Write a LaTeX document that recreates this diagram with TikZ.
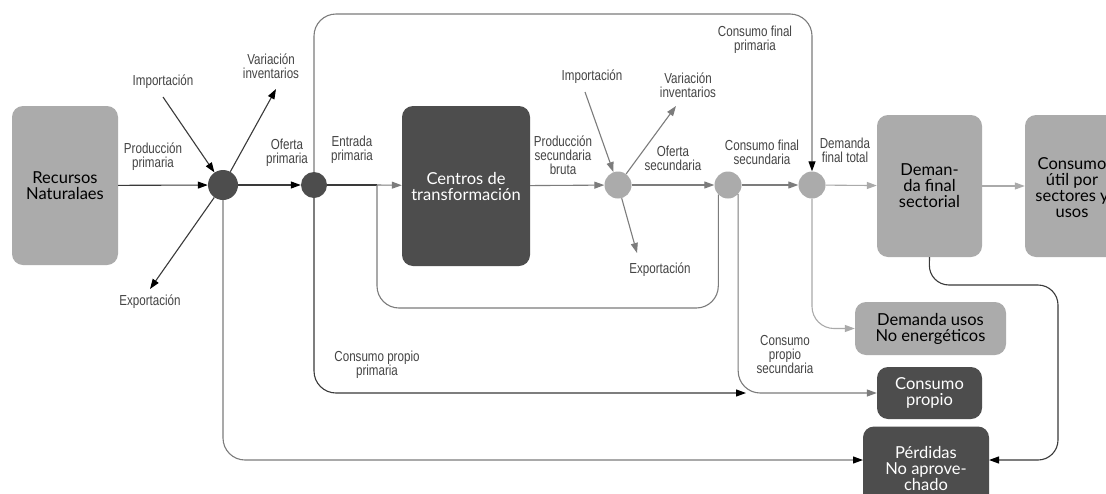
\documentclass[tikz,border=0pt]{standalone}
\usepackage{fontspec}
\setmainfont{Liberation Sans}
\newfontfamily\lblfont[FakeStretch=0.8]{Liberation Sans}
\newfontfamily\boxfont{Lato}
\usetikzlibrary{arrows.meta,calc}
\definecolor{dkfill}{HTML}{4D4D4D}
\definecolor{ltfill}{HTML}{ABABAB}
\definecolor{lblc}{HTML}{444444}
\definecolor{dkline}{HTML}{3A3A3A}
\definecolor{mdline}{HTML}{7C7C7C}
\definecolor{ltline}{HTML}{AAAAAA}
\begin{document}
\begin{tikzpicture}[x=1pt,y=-1pt,
  lbl/.style={font=\lblfont\fontsize{14.5}{14}\selectfont, text=lblc, align=center, inner sep=0pt},
  boxtxt/.style={font=\boxfont\fontsize{16.5}{16}\selectfont, align=center, inner sep=0pt, rounded corners=11pt},
  dkbox/.style={boxtxt, fill=dkfill, text=white},
  ltbox/.style={boxtxt, fill=ltfill, text=black},
  dkdot/.style={circle, fill=dkfill, inner sep=0pt},
  ltdot/.style={circle, fill=ltfill, inner sep=0pt},
  tipk/.style={-{Triangle[length=10pt,width=7pt,color=black]}},
  tipm/.style={-{Triangle[length=10pt,width=7pt,color=mdline]}},
  tipl/.style={-{Triangle[length=10pt,width=7pt,color=ltline]}},
  dkl/.style={draw=dkline, line width=1.1pt},
  mdl/.style={draw=mdline, line width=1.1pt},
  ltl/.style={draw=ltline, line width=1.1pt},
  rc/.style={rounded corners=22pt}
]
\useasboundingbox (0,0) rectangle (1106,493);
\fill[white] (0,0) rectangle (1106,493);

% boxes
\node[ltbox, minimum width=106pt, minimum height=159pt] (rec) at (65,185.5) {Recursos\\Naturalaes};
\node[dkbox, minimum width=128pt, minimum height=160pt] (cen) at (466,186) {Centros de\\transformación};
\node[ltbox, minimum width=105pt, minimum height=142pt] (dfs) at (929.5,186) {Deman-\\da final\\sectorial};
\node[ltbox, minimum width=110pt, minimum height=142pt] (cu) at (1080,186) {};
\node[boxtxt, text=black] (cut) at (1072,188) {Consumo\\útil por\\sectores y\\usos};
\node[ltbox, minimum width=151pt, minimum height=53pt] (dun) at (930.5,328.5) {Demanda usos\\No energéticos};
\node[dkbox, minimum width=105pt, minimum height=52pt] (cp) at (929.5,393) {Consumo\\propio};
\node[dkbox, minimum width=126pt, minimum height=83pt] (per) at (926,468) {Pérdidas\\No aprove-\\chado};

% circles
\node[dkdot, minimum size=30pt] (n1) at (223,185) {};
\node[dkdot, minimum size=26pt] (n2) at (314,185) {};
\node[ltdot, minimum size=27pt] (sA) at (618,185) {};
\node[ltdot, minimum size=27pt] (sB) at (728,185) {};
\node[ltdot, minimum size=27pt] (sC) at (812,185) {};

% free ends
\coordinate (imp1) at (163,97);
\coordinate (var1) at (276,89);
\coordinate (exp1) at (150,289);
\coordinate (imp2) at (585,92);
\coordinate (var2) at (676,106);
\coordinate (exp2) at (637,253);
\coordinate (j1) at (377,185);
\coordinate (lb) at (377,308);
\coordinate (tl) at (314,14);
\coordinate (tr) at (812,14);
\coordinate (cpj) at (746,393);
\coordinate (pin) at (863,460);
\coordinate (pout) at (989,460);
\coordinate (d1) at (929,285);
\coordinate (d2) at (1058,285);
\coordinate (d3) at (1058,460);

% primary side
\draw[dkl, tipk] (rec) -- (n1);
\draw[dkl, tipk] (n1) -- (n2);
\draw[dkl, tipk] (imp1) -- (n1);
\draw[dkl, tipk] (n1) -- (var1);
\draw[dkl, tipk] (n1) -- (exp1);
\draw[dkl] (n2) -- (j1);
\draw[mdl, tipm] (j1) -- (cen);

% top loop
\draw[mdl, rc, tipk] (n2) -- (tl) -- (tr) -- (sC);

% secondary side
\draw[mdl, tipm] (cen) -- (sA);
\draw[mdl, tipm] (sA) -- (sB);
\draw[mdl, tipm] (sB) -- (sC);
\draw[ltl, tipl] (sC) -- (dfs);
\draw[ltl, tipl] (dfs) -- (cu);
\draw[mdl, tipm] (imp2) -- (sA);
\draw[mdl, tipm] (sA) -- (var2);
\draw[mdl, tipm] (sA) -- (exp2);

% return loop to transformation
\draw[mdl, rc] (sB.225) -- (sB.225 |- lb) -- (lb) -- (j1);

% consumo propio
\draw[mdl, rc, tipm] (sB.318) |- (cp.west);
\draw[dkl, rc, tipk] (n2) |- (cpj);

% demanda usos no energeticos
\draw[ltl, rc, tipl] (sC) |- (dun.west);

% perdidas
\draw[mdl, rc, tipk] (n1) |- (pin);
\draw[dkl, rounded corners=20pt, tipk] (dfs.south) -- (d1) -- (d2) -- (d3) -- (pout);

% labels
\node[lbl] (l1) at (163,82) {Importación};
\node[lbl] (l2) at (271,66) {Variación\\inventarios};
\node[lbl] (l3) at (150,302) {Exportación};
\node[lbl] (l4) at (153,157) {Producción\\primaria};
\node[lbl] (l5) at (287,153) {Oferta\\primaria};
\node[lbl] (l6) at (352,150) {Entrada\\primaria};
\node[lbl] (l7) at (563,155) {Producción\\secundaria\\bruta};
\node[lbl] (l8) at (592,77) {Importación};
\node[lbl] (l9) at (688,85) {Variación\\inventarios};
\node[lbl] (l10) at (673,158) {Oferta\\secundaria};
\node[lbl] (l11) at (660,270) {Exportación};
\node[lbl] (l12) at (762,152) {Consumo final\\secundaria};
\node[lbl] (l13) at (845,150) {Demanda\\final total};
\node[lbl] (l14) at (755,40) {Consumo final\\primaria};
\node[lbl] (l15) at (377,365) {Consumo propio\\primaria};
\node[lbl] (l16) at (785,355) {Consumo\\propio\\secundaria};
\end{tikzpicture}
\end{document}
